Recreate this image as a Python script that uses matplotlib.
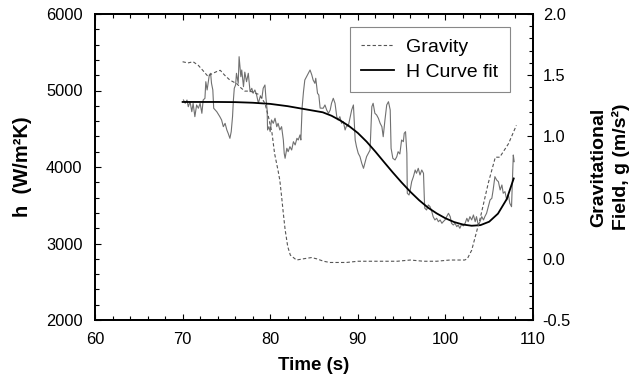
import numpy as np
import matplotlib
matplotlib.use('Agg')
import matplotlib.pyplot as plt
from matplotlib.ticker import MultipleLocator

plt.rcParams['font.family'] = ['Liberation Sans', 'DejaVu Sans']

## measured heat transfer coefficient (noisy trace)
h_time = [70.1, 70.3, 70.5, 70.65, 70.85, 71.05, 71.2, 71.4, 71.6, 71.8, 72.0, 72.2,
          72.35, 72.55, 72.65, 72.8, 73.05, 73.2, 73.3, 73.45, 73.55, 73.9, 74.25, 74.45,
          74.65, 74.85, 75.05, 75.2, 75.4, 75.55, 75.7, 75.8, 75.9, 76.05, 76.15, 76.35,
          76.45, 76.65, 76.75, 76.95, 77.1, 77.3, 77.5, 77.7, 77.9, 78.05, 78.25, 78.45,
          78.65, 78.85, 79.05, 79.2, 79.4, 79.5, 79.65, 79.7, 79.85, 80.0, 80.15, 80.35,
          80.55, 80.75, 80.9, 81.1, 81.3, 81.5, 81.6, 81.7, 81.9, 82.05, 82.25, 82.45,
          82.65, 82.85, 83.05, 83.2, 83.4, 83.5, 83.65, 83.8, 83.95, 84.15, 84.35, 84.55,
          84.75, 84.9, 85.1, 85.2, 85.4, 85.55, 85.7, 86.05, 86.25, 86.45, 86.65, 86.85,
          87.0, 87.2, 87.4, 87.6, 87.75, 87.95, 88.15, 88.35, 88.55, 88.75, 88.9, 89.1,
          89.3, 89.5, 89.7, 89.85, 90.05, 90.25, 90.45, 90.65, 90.8, 91.0, 91.2, 91.4,
          91.6, 91.75, 91.95, 92.15, 92.35, 92.55, 92.75, 92.9, 93.1, 93.3, 93.5, 93.7,
          93.8, 94.0, 94.25, 94.45, 94.6, 94.8, 95.0, 95.2, 95.3, 95.45, 95.6, 95.65,
          95.85, 95.95, 96.15, 96.35, 96.55, 96.7, 96.9, 97.1, 97.3, 97.5, 97.6, 97.65,
          97.85, 98.05, 98.25, 98.45, 98.6, 98.8, 99.0, 99.2, 99.4, 99.6, 99.75, 99.95,
          100.15, 100.35, 100.55, 100.7, 100.9, 101.1, 101.3, 101.45, 101.65, 101.85, 102.05, 102.25,
          102.45, 102.6, 102.8, 103.0, 103.2, 103.4, 103.55, 103.75, 103.95, 104.15, 104.35, 104.5,
          104.7, 104.9, 105.1, 105.3, 105.45, 105.65, 105.85, 106.05, 106.25, 106.45, 106.6, 106.8,
          107.0, 107.2, 107.35, 107.55, 107.75, 107.85]
h_vals = [4876, 4833, 4876, 4788, 4854, 4723, 4833, 4658, 4811, 4768, 4833, 4702,
          4876, 4898, 5115, 5007, 5203, 5225, 5094, 5007, 4768, 4723, 4658, 4615,
          4527, 4571, 4484, 4441, 4375, 4462, 4658, 4876, 5029, 5072, 5225, 5094,
          5442, 5180, 5268, 5050, 5240, 5115, 5225, 4984, 5029, 4964, 5007, 4941,
          4833, 4919, 4898, 5029, 5072, 4919, 4745, 4484, 4527, 4462, 4615, 4571,
          4637, 4527, 4571, 4484, 4527, 4353, 4179, 4114, 4245, 4200, 4266, 4222,
          4331, 4288, 4375, 4353, 4419, 4353, 4788, 4984, 5137, 5180, 5225, 5268,
          5203, 5137, 5094, 5160, 4964, 4941, 4770, 4768, 4811, 4745, 4702, 4745,
          4833, 4898, 4833, 4658, 4615, 4658, 4571, 4593, 4484, 4549, 4527, 4637,
          4745, 4811, 4353, 4266, 4179, 4135, 4049, 3983, 4049, 4135, 4179, 4222,
          4788, 4833, 4702, 4680, 4637, 4571, 4527, 4396, 4615, 4811, 4854, 4745,
          4245, 4114, 4092, 4135, 4200, 4170, 4353, 4331, 4441, 4462, 4179, 3657,
          3634, 3678, 3808, 3874, 3961, 3918, 3983, 3896, 3961, 3918, 3569, 3461,
          3438, 3504, 3481, 3416, 3351, 3308, 3330, 3285, 3308, 3264, 3285, 3308,
          3351, 3395, 3351, 3264, 3242, 3264, 3220, 3242, 3199, 3250, 3230, 3264,
          3330, 3285, 3351, 3308, 3373, 3285, 3351, 3242, 3285, 3351, 3308, 3351,
          3395, 3481, 3569, 3591, 3700, 3874, 3830, 3808, 3700, 3765, 3657, 3678,
          3569, 3634, 3526, 3481, 4157, 4070]

## curve fit through h
fit_time = [70, 72, 74, 76, 78, 80, 82, 84, 85, 86, 87, 88, 89, 90, 91, 92, 93, 94,
            95, 96, 97, 98, 99, 100, 101, 102, 103, 104, 105, 106, 107, 107.8]
fit_vals = [4850, 4850, 4850, 4848, 4840, 4825, 4795, 4755, 4735, 4715, 4670, 4608,
            4535, 4445, 4332, 4202, 4064, 3928, 3798, 3676, 3566, 3470, 3394, 3330,
            3280, 3248, 3232, 3240, 3285, 3390, 3580, 3850]

## gravitational field
g_time = [70.0, 70.6, 71.2, 71.8, 72.3, 72.9, 73.3, 73.9, 74.3, 74.8, 75.4, 76.2,
          76.6, 77.1, 77.7, 78.8, 79.4, 79.8, 80.2, 80.5, 80.9, 81.1, 81.3, 81.5,
          81.7, 82.0, 82.3, 83.0, 83.8, 84.7, 85.3, 86.1, 86.8, 87.6, 88.7, 90.0,
          91.5, 93.0, 94.5, 96.0, 97.5, 99.0, 100.5, 101.5, 102.2, 102.5, 103.0, 104.0,
          104.9, 105.7, 106.2, 107.2, 108.1]
g_vals = [1.61, 1.60, 1.61, 1.58, 1.54, 1.49, 1.51, 1.53, 1.54, 1.50, 1.46, 1.43,
          1.40, 1.37, 1.37, 1.34, 1.27, 1.16, 1.03, 0.86, 0.72, 0.64, 0.51, 0.37,
          0.24, 0.10, 0.03, -0.01, 0.00, 0.01, 0.00, -0.02, -0.03, -0.03, -0.03, -0.02,
          -0.02, -0.02, -0.02, -0.01, -0.02, -0.02, -0.01, -0.01, -0.01, 0.00, 0.07, 0.34,
          0.62, 0.83, 0.83, 0.94, 1.09]

fig = plt.figure(figsize=(6.37, 3.82), dpi=100)
ax = fig.add_axes([95/637, 1-320/382, 438/637, 306/382])
ax2 = ax.twinx()

ax.plot(h_time, h_vals, color='#707070', lw=0.8)
ln_fit, = ax.plot(fit_time, fit_vals, color='black', lw=1.3, label='H Curve fit')
ln_g, = ax2.plot(g_time, g_vals, color='#555555', lw=0.8, ls=(0, (3, 2)), label='Gravity')

ax.set_xlim(60, 110)
ax.set_ylim(2000, 6000)
ax2.set_ylim(-0.5, 2.0)

ax.xaxis.set_major_locator(MultipleLocator(10))
ax.xaxis.set_minor_locator(MultipleLocator(2))
ax.yaxis.set_major_locator(MultipleLocator(1000))
ax.yaxis.set_minor_locator(MultipleLocator(200))
ax2.yaxis.set_major_locator(MultipleLocator(0.5))
ax2.yaxis.set_minor_locator(MultipleLocator(0.1))
ax2.yaxis.set_major_formatter(plt.FormatStrFormatter('%.1f'))

ax.tick_params(axis='x', which='both', direction='in', top=True, pad=9, labelsize=11.8)
ax.tick_params(axis='y', which='both', direction='in', pad=9, labelsize=11.8)
ax2.tick_params(axis='y', which='both', direction='in', pad=7, labelsize=11.8)
for a in (ax, ax2):
    a.tick_params(which='major', length=4, width=0.8)
    a.tick_params(which='minor', length=3, width=0.8)
    for s in a.spines.values():
        s.set_linewidth(1.3)

ax.set_xlabel('Time (s)', fontsize=13.5, fontweight='bold', labelpad=7)
ax.set_ylabel('h  (W/m²K)', fontsize=14.5, fontweight='bold', labelpad=10)
ax2.set_ylabel('Gravitational\nField, g (m/s²)', fontsize=14, fontweight='bold',
               labelpad=14, rotation=90, linespacing=1.3)

leg = ax.legend([ln_g, ln_fit], ['Gravity', 'H Curve fit'], loc='upper right',
                bbox_to_anchor=(0.947, 0.958), borderaxespad=0, fancybox=False,
                framealpha=1, edgecolor='#888888', fontsize=14, handlelength=1.7,
                handletextpad=0.6, borderpad=0.6, labelspacing=0.35)
leg.get_frame().set_linewidth(0.8)

fig.savefig('out.png', dpi=100)
